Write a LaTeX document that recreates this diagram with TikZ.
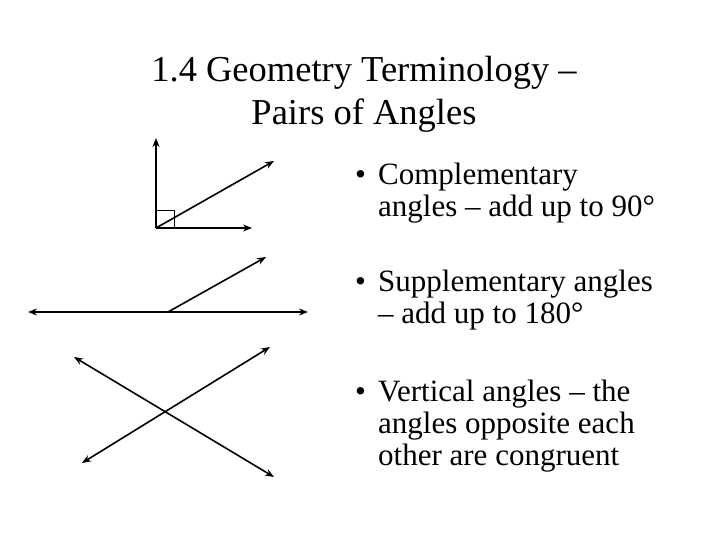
\documentclass[tikz,border=0pt]{standalone}
\usepackage{fontspec}
\setmainfont{Liberation Serif}
\usetikzlibrary{arrows.meta}
\begin{document}
\begin{tikzpicture}[x=1pt,y=-1pt,
  ln/.style={line width=1.6pt},
  ar/.style={-{Stealth[length=9pt,width=7pt]}},
  tt/.style={font=\fontsize{36.5}{43}\selectfont,align=center},
  bt/.style={font=\fontsize{31}{32}\selectfont,align=left,anchor=north west,inner sep=0pt}]
\useasboundingbox[fill=white] (0,0) rectangle (720,540);
\node[tt] (title) at (364,94) {1.4 Geometry Terminology –\\Pairs of Angles};
% figure 1
\coordinate (v1) at (156,228);
\coordinate (u1) at (156,138);
\coordinate (r1) at (252,228);
\coordinate (d1) at (274,161);
\draw[ln,ar] (v1) -- (u1);
\draw[ln,ar] (v1) -- (r1);
\draw[ln,ar] (v1) -- (d1);
\draw[line width=0.9pt] (156,210) -- (174,210) -- (174,228);
% figure 2
\coordinate (a2) at (28,312);
\coordinate (b2) at (308,312);
\coordinate (v2) at (168,312);
\coordinate (d2) at (266,257);
\draw[ln,{Stealth[length=9pt,width=7pt]}-{Stealth[length=9pt,width=7pt]}] (a2) -- (b2);
\draw[ln,ar] (v2) -- (d2);
% figure 3
\coordinate (a3) at (74,357);
\coordinate (b3) at (274,477);
\coordinate (c3) at (82,463);
\coordinate (e3) at (270,347);
\draw[ln,{Stealth[length=9pt,width=7pt]}-{Stealth[length=9pt,width=7pt]}] (a3) -- (b3);
\draw[ln,{Stealth[length=9pt,width=7pt]}-{Stealth[length=9pt,width=7pt]}] (c3) -- (e3);
% bullets
\node[bt] (b1) at (355,163) {\makebox[23pt][l]{•}Complementary\\\hspace{23pt}angles – add up to 90°};
\node[bt] (b2t) at (355,270) {\makebox[23pt][l]{•}Supplementary angles\\\hspace{23pt}– add up to 180°};
\node[bt] (b3t) at (355,380) {\makebox[23pt][l]{•}Vertical angles – the\\\hspace{23pt}angles opposite each\\\hspace{23pt}other are congruent};
\end{tikzpicture}
\end{document}
